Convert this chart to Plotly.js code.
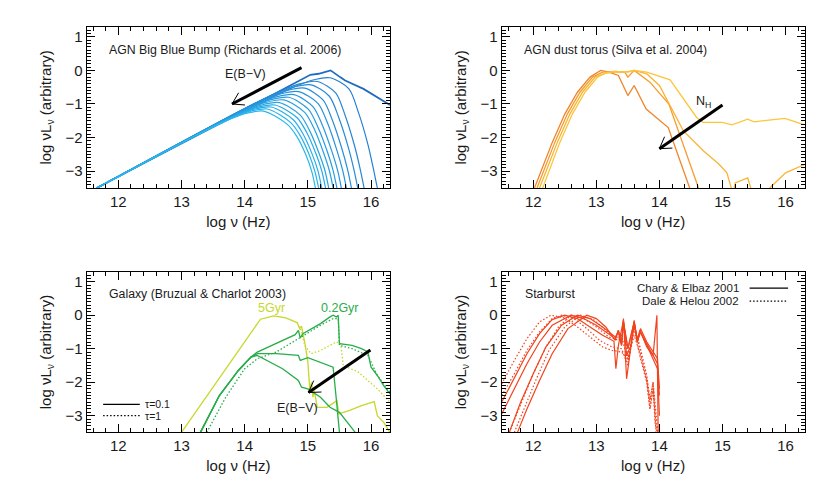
<!DOCTYPE html>
<html><head><meta charset="utf-8">
<script src="https://cdn.plot.ly/plotly-3.0.1.min.js"></script>
<style>html,body{margin:0;padding:0;background:#fff}#chart{width:830px;height:488px}</style>
</head><body><div id="chart"></div>
<script>
// ---------------- DATA ----------------
const xTicks = [12, 13, 14, 15, 16];
const yTicks = [-3, -2, -1, 0, 1];

// Panel 1: AGN Big Blue Bump (unreddened + reddened versions)
const bbbTopX = [11.66, 15.04, 15.17, 15.36, 15.51, 15.59, 15.88, 16.10, 16.30];
const bbbTopY = [-3.5, -0.13, -0.10, 0.00, -0.20, -0.30, -0.55, -0.80, -1.03];
const bbbRedX = [
  [11.66,14.35,14.75,15.05,15.35,15.65,15.80,15.95,16.04,16.10],
  [11.66,14.15,14.55,14.85,15.15,15.44,15.59,15.74,15.83,15.89],
  [11.66,14.05,14.45,14.75,15.05,15.34,15.49,15.64,15.73,15.79],
  [11.66,13.95,14.35,14.65,14.95,15.24,15.39,15.54,15.63,15.69],
  [11.66,13.85,14.25,14.55,14.85,15.16,15.31,15.46,15.55,15.61],
  [11.66,13.78,14.18,14.48,14.78,15.08,15.23,15.38,15.47,15.53],
  [11.66,13.70,14.10,14.40,14.70,15.01,15.16,15.31,15.40,15.46],
  [11.66,13.62,14.02,14.32,14.62,14.95,15.10,15.25,15.34,15.40],
  [11.66,13.55,13.95,14.25,14.55,14.88,15.03,15.18,15.27,15.33],
  [11.66,13.48,13.88,14.18,14.48,14.83,14.98,15.13,15.22,15.28],
  [11.66,13.42,13.82,14.12,14.42,14.77,14.92,15.07,15.16,15.22],
  [11.66,13.36,13.76,14.06,14.36,14.72,14.87,15.02,15.11,15.17],
  [11.66,13.30,13.70,14.00,14.30,14.67,14.82,14.97,15.06,15.12]
];
const bbbRedY = [
  [-3.5,-0.88,-0.52,-0.30,-0.22,-0.55,-1.25,-2.20,-2.95,-3.5],
  [-3.5,-0.99,-0.63,-0.41,-0.33,-0.67,-1.34,-2.25,-2.95,-3.5],
  [-3.5,-1.09,-0.73,-0.51,-0.43,-0.77,-1.41,-2.29,-2.96,-3.5],
  [-3.5,-1.19,-0.83,-0.61,-0.53,-0.88,-1.49,-2.34,-2.96,-3.5],
  [-3.5,-1.29,-0.93,-0.71,-0.63,-0.98,-1.56,-2.38,-2.97,-3.5],
  [-3.5,-1.38,-1.02,-0.80,-0.72,-1.08,-1.63,-2.41,-2.97,-3.5],
  [-3.5,-1.46,-1.10,-0.88,-0.80,-1.16,-1.69,-2.43,-2.98,-3.5],
  [-3.5,-1.54,-1.18,-0.96,-0.88,-1.25,-1.74,-2.46,-2.98,-3.5],
  [-3.5,-1.62,-1.26,-1.04,-0.96,-1.33,-1.80,-2.48,-2.98,-3.5],
  [-3.5,-1.69,-1.33,-1.11,-1.03,-1.41,-1.84,-2.49,-2.99,-3.5],
  [-3.5,-1.75,-1.39,-1.17,-1.09,-1.47,-1.88,-2.50,-2.99,-3.5],
  [-3.5,-1.81,-1.45,-1.23,-1.15,-1.54,-1.91,-2.50,-3.00,-3.5],
  [-3.5,-1.87,-1.51,-1.29,-1.21,-1.60,-1.95,-2.52,-3.00,-3.5]
];

// Panel 2: AGN dust torus
const torusX = [
  [12.02,12.30,12.50,12.70,12.90,13.07,13.20,13.35,13.50,13.60,13.79,14.14,14.48],
  [12.06,12.34,12.54,12.74,12.94,13.10,13.30,13.45,13.50,13.60,13.85,14.15,14.62],
  [12.10,12.38,12.58,12.78,12.98,13.15,13.30,13.45,13.60,13.80,14.00,14.15,14.38,14.70,14.95,15.07,15.17,15.20,15.40,15.48,15.70,15.75,16.00,16.30],
  [12.15,12.42,12.62,12.82,13.02,13.15,13.30,13.50,13.60,13.80,14.17,14.37,14.59,14.69,15.00,15.15,15.40,15.50,15.99,16.30]
];
const torusY = [
  [-3.5,-2.15,-1.30,-0.65,-0.20,0.00,-0.05,-0.15,-0.75,-0.45,-1.15,-1.70,-3.5],
  [-3.5,-2.15,-1.30,-0.65,-0.20,-0.05,-0.03,-0.05,-0.20,0.00,-0.35,-1.00,-3.5],
  [-3.5,-2.15,-1.30,-0.65,-0.20,-0.08,-0.05,-0.05,0.00,-0.10,-0.45,-1.00,-1.80,-2.40,-2.80,-3.05,-3.70,-3.35,-3.20,-3.70,-3.70,-3.50,-3.05,-2.80],
  [-3.5,-2.15,-1.30,-0.65,-0.20,-0.07,-0.03,-0.05,0.00,-0.05,-0.28,-0.80,-1.40,-1.55,-1.55,-1.62,-1.45,-1.53,-1.43,-1.62]
];

// Panel 3: Galaxy (Bruzual & Charlot 2003)
const gal5SolidX = [13.0,13.6,14.0,14.25,14.46,14.65,14.83,14.87,14.90,14.95,15.00,15.03,15.06,15.08,15.10,15.15,15.30,15.42,15.46,15.49,15.65,15.85,16.05,16.10,16.20,16.30];
const gal5SolidY = [-3.5,-1.88,-0.80,-0.12,-0.02,-0.08,-0.22,-0.40,-0.33,-0.80,-1.40,-2.20,-2.00,-2.45,-2.25,-2.75,-2.75,-2.60,-2.55,-2.95,-2.85,-2.70,-2.58,-3.00,-3.20,-3.5];
const gal5DotX = [14.83,14.90,14.95,15.05,15.20,15.35,15.45,15.52,15.56,15.80,15.95,16.10,16.30];
const gal5DotY = [-0.22,-0.50,-0.90,-1.15,-1.05,-0.90,-0.80,-0.85,-1.50,-1.70,-1.95,-2.20,-2.60];
const gal02SolidX = [
  [13.3,13.6,13.9,14.1,14.2,14.5,14.8,14.85,14.88,14.92,15.2,15.35,15.4,15.45,15.48,15.5,15.7,15.85,15.95,16.0,16.1,16.2,16.3],
  [13.3,13.6,13.9,14.1,14.2,14.5,14.85,14.88,15.0,15.25,15.4,15.45,15.5],
  [13.3,13.6,13.9,14.1,14.2,14.6,14.85,14.9,15.0,15.2,15.35,15.5,15.75]
];
const gal02SolidY = [
  [-3.5,-2.4,-1.65,-1.25,-1.1,-0.85,-0.58,-0.45,-0.68,-0.55,-0.25,-0.05,0.0,-0.05,0.0,-0.85,-0.9,-1.0,-1.1,-1.55,-1.8,-2.1,-2.35],
  [-3.5,-2.4,-1.65,-1.25,-1.15,-1.15,-1.2,-1.35,-1.27,-1.45,-1.55,-2.5,-3.5],
  [-3.5,-2.4,-1.65,-1.25,-1.2,-1.6,-1.95,-2.15,-2.2,-2.45,-2.75,-2.9,-3.5]
];
const gal02DotX = [13.4,13.7,14.0,14.2,14.5,14.85,15.2,15.4,15.48,15.5,15.7,15.95,16.1,16.3];
const gal02DotY = [-3.5,-2.45,-1.6,-1.3,-1.1,-0.7,-0.3,-0.1,-0.1,-0.9,-1.0,-1.2,-1.8,-2.3];

// Panel 4: Starburst
const charyX = [
  [11.5,11.7,11.9,12.1,12.3,12.5,12.7,12.9,13.1,13.28,13.31,13.35,13.4,13.43,13.48,13.55,13.6,13.65,13.69,13.8,13.9,13.97,14.0],
  [11.5,11.7,11.9,12.1,12.3,12.6,12.8,13.0,13.2,13.3,13.35,13.4,13.43,13.48,13.55,13.6,13.65,13.7,13.8,13.9,13.97,14.0],
  [11.62,11.8,12.0,12.2,12.45,12.7,12.9,13.1,13.3,13.35,13.4,13.43,13.5,13.6,13.65,13.7,13.8,13.9,13.96,13.98],
  [11.75,11.9,12.1,12.3,12.55,12.85,13.0,13.15,13.3,13.35,13.4,13.43,13.5,13.6,13.65,13.7,13.8,13.9,13.97,14.0]
];
const charyY = [
  [-2.6,-1.85,-1.15,-0.55,-0.13,0,-0.1,-0.35,-0.6,-0.78,-1.6,-0.9,-0.45,-0.15,-1.2,-0.9,-0.25,-0.75,-0.45,-0.95,-1.2,-1.45,-2.4],
  [-2.95,-2.2,-1.45,-0.8,-0.3,0,-0.1,-0.3,-0.55,-0.7,-0.45,-0.9,-0.1,-1.9,-0.9,-0.15,-0.8,-0.4,-0.8,-1.1,-1.3,-2.2],
  [-3.5,-2.6,-1.75,-0.95,-0.3,0,-0.1,-0.35,-0.65,-0.5,-0.9,-0.2,-1.0,-0.2,-0.8,-0.5,-0.85,-1.2,0.0,-3.5],
  [-3.5,-2.8,-1.95,-1.15,-0.4,0,-0.1,-0.35,-0.75,-0.45,-0.85,-0.2,-1.0,-0.2,-0.75,-0.5,-0.9,-1.3,-1.6,-3.0]
];
const daleX = [
  [11.5,11.7,11.9,12.1,12.28,12.5,12.7,12.9,13.1,13.25,13.4,13.5,13.6,13.7,13.8,13.85,13.9,13.95],
  [11.5,11.7,11.9,12.1,12.3,12.45,12.65,12.85,13.05,13.25,13.4,13.5,13.6,13.7,13.8,13.85,13.9,13.93,13.97],
  [11.62,11.8,12.0,12.2,12.4,12.6,12.8,13.0,13.2,13.35,13.45,13.5,13.6,13.7,13.8,13.85,13.9,13.95,13.98],
  [11.7,11.85,12.05,12.25,12.5,12.75,12.95,13.15,13.3,13.4,13.5,13.6,13.7,13.8,13.85,13.9,13.95,13.99]
];
const daleY = [
  [-2.05,-1.35,-0.7,-0.2,0,-0.08,-0.35,-0.65,-0.95,-1.05,-1.1,-1.3,-0.6,-1.2,-1.9,-2.6,-2.0,-3.6],
  [-2.4,-1.75,-1.05,-0.5,-0.1,0,-0.1,-0.4,-0.75,-0.95,-1.0,-1.5,-0.4,-1.3,-2.0,-2.8,-2.2,-3.2,-3.6],
  [-3.5,-2.65,-1.75,-0.95,-0.35,0,-0.1,-0.35,-0.65,-0.75,-0.4,-1.3,-0.3,-1.0,-1.8,-2.5,-2.0,-3.0,-3.6],
  [-3.5,-2.8,-1.9,-1.05,-0.35,0,-0.12,-0.45,-0.7,-0.6,-1.4,-0.35,-1.1,-2.0,-2.8,-2.2,-3.3,-3.6]
];

// ---------------- STYLE / LAYOUT ----------------
const FONT = 'Liberation Sans, Arial, Helvetica, sans-serif';
const W = 830, H = 488;
const colDom = [[86.7/W, 390/W], [501.7/W, 804.5/W]];
const rowDom = [[(H-188)/H, (H-26.7)/H], [(H-432.4)/H, (H-271.7)/H]];
const XR = [11.5, 16.3], YR = [-3.5, 1.3];
const TXT = '#1a1a1a';
const DOT = '1.5px,2px';

function xAxis(dom, anchor) {
  return {
    domain: dom, anchor: anchor, range: XR, tickmode: 'array', tickvals: xTicks,
    showline: true, linecolor: '#000', linewidth: 1, mirror: 'allticks',
    ticks: 'inside', ticklen: 8, tickcolor: '#000', showgrid: false, zeroline: false,
    minor: {tickmode: 'linear', tick0: 0, dtick: 0.2, ticks: 'inside', ticklen: 4, tickcolor: '#000', showgrid: false},
    tickfont: {family: FONT, size: 15, color: TXT},
    title: {text: 'log ν (Hz)', font: {family: FONT, size: 15, color: TXT}, standoff: 7}
  };
}
function yAxis(dom, anchor) {
  return {
    domain: dom, anchor: anchor, range: YR, tickmode: 'array', tickvals: yTicks,
    showline: true, linecolor: '#000', linewidth: 1, mirror: 'allticks',
    ticks: 'inside', ticklen: 8, tickcolor: '#000', showgrid: false, zeroline: false,
    minor: {tickmode: 'linear', tick0: 0, dtick: 0.1, ticks: 'inside', ticklen: 4, tickcolor: '#000', showgrid: false},
    tickfont: {family: FONT, size: 15, color: TXT},
    title: {text: 'log νL<sub>ν</sub> (arbitrary)', font: {family: FONT, size: 15, color: TXT}, standoff: 10}
  };
}

const traces = [];
function mix(c1, c2, t) { return 'rgb(' + c1.map((v, i) => Math.round(v + (c2[i] - v) * t)).join(',') + ')'; }

// Panel 1
traces.push({x: bbbTopX, y: bbbTopY, xaxis: 'x', yaxis: 'y', mode: 'lines', line: {color: 'rgb(32,108,192)', width: 1.8}});
bbbRedX.forEach((xs, i) => {
  traces.push({x: xs, y: bbbRedY[i], xaxis: 'x', yaxis: 'y', mode: 'lines',
    line: {color: mix([38,128,210], [40,182,236], i / (bbbRedX.length - 1)), width: 1.2, shape: 'spline', smoothing: 0.8}});
});

// Panel 2
const torusColors = ['#f0842a', '#f59c2e', '#f9b433', '#fcc53b'];
torusX.forEach((xs, i) => {
  traces.push({x: xs, y: torusY[i], xaxis: 'x2', yaxis: 'y2', mode: 'lines', line: {color: torusColors[i], width: 1.3}});
});

// Panel 3
const c5 = '#c8d72c', c02 = '#27ae4a';
traces.push({x: gal5SolidX, y: gal5SolidY, xaxis: 'x3', yaxis: 'y3', mode: 'lines', line: {color: c5, width: 1.3}});
traces.push({x: gal5DotX, y: gal5DotY, xaxis: 'x3', yaxis: 'y3', mode: 'lines', line: {color: c5, width: 1.3, dash: DOT}});
gal02SolidX.forEach((xs, i) => {
  traces.push({x: xs, y: gal02SolidY[i], xaxis: 'x3', yaxis: 'y3', mode: 'lines', line: {color: c02, width: 1.3}});
});
traces.push({x: gal02DotX, y: gal02DotY, xaxis: 'x3', yaxis: 'y3', mode: 'lines', line: {color: c02, width: 1.3, dash: DOT}});

// Panel 4
const cSB = '#f1431e';
charyX.forEach((xs, i) => {
  traces.push({x: xs, y: charyY[i], xaxis: 'x4', yaxis: 'y4', mode: 'lines', line: {color: cSB, width: 1.2}});
});
daleX.forEach((xs, i) => {
  traces.push({x: xs, y: daleY[i], xaxis: 'x4', yaxis: 'y4', mode: 'lines', line: {color: cSB, width: 1.2, dash: DOT}});
});

// arrows: thick shaft + thin open head
const shapes = [];
function pxPerUnit(axisDom, range, size) { return (axisDom[1] - axisDom[0]) * size / (range[1] - range[0]); }
function addArrow(xr, yr, xDom, yDom, tail, tip) {
  const kx = pxPerUnit(xDom, XR, W), ky = pxPerUnit(yDom, YR, H);
  shapes.push({type: 'line', xref: xr, yref: yr, x0: tail[0], y0: tail[1], x1: tip[0], y1: tip[1], line: {color: '#000', width: 3}});
  const dx = (tail[0] - tip[0]) * kx, dy = (tail[1] - tip[1]) * ky;
  const L = Math.hypot(dx, dy), ux = dx / L, uy = dy / L, hl = 13, a = 32 * Math.PI / 180;
  [a, -a].forEach(t => {
    const rx = ux * Math.cos(t) - uy * Math.sin(t), ry = ux * Math.sin(t) + uy * Math.cos(t);
    shapes.push({type: 'line', xref: xr, yref: yr, x0: tip[0], y0: tip[1], x1: tip[0] + rx * hl / kx, y1: tip[1] + ry * hl / ky, line: {color: '#000', width: 1}});
  });
}
addArrow('x', 'y', colDom[0], rowDom[0], [14.9, 0.08], [13.8, -1.0]);
addArrow('x2', 'y2', colDom[1], rowDom[0], [15.0, -1.03], [14.0, -2.33]);
addArrow('x3', 'y3', colDom[0], rowDom[1], [15.99, -1.04], [15.01, -2.31]);

// legend lines
shapes.push({type: 'line', xref: 'x3', yref: 'y3', x0: 11.76, x1: 12.34, y0: -2.66, y1: -2.66, line: {color: '#000', width: 1.2}});
shapes.push({type: 'line', xref: 'x3', yref: 'y3', x0: 11.76, x1: 12.34, y0: -3.0, y1: -3.0, line: {color: '#000', width: 1.2, dash: DOT}});
shapes.push({type: 'line', xref: 'x4', yref: 'y4', x0: 15.43, x1: 16.04, y0: 0.81, y1: 0.81, line: {color: '#000', width: 1.2}});
shapes.push({type: 'line', xref: 'x4', yref: 'y4', x0: 15.43, x1: 16.04, y0: 0.42, y1: 0.42, line: {color: '#000', width: 1.2, dash: DOT}});

function txt(xr, yr, x, y, text, anchor, color, size) {
  return {xref: xr, yref: yr, x: x, y: y, text: text, showarrow: false, xanchor: anchor || 'left', yanchor: 'middle',
    font: {family: FONT, size: size || 12.3, color: color || TXT}};
}
const annotations = [
  txt('x', 'y', 11.82, 0.6, 'AGN Big Blue Bump (Richards et al. 2006)'),
  txt('x', 'y', 14.01, -0.12, 'E(B−V)', 'center', TXT, 12.5),
  txt('x2', 'y2', 11.82, 0.6, 'AGN dust torus (Silva et al. 2004)'),
  txt('x2', 'y2', 14.7, -0.95, 'N<sub>H</sub>', 'center', TXT, 12.5),
  txt('x3', 'y3', 11.82, 0.63, 'Galaxy (Bruzual & Charlot 2003)'),
  txt('x3', 'y3', 14.43, 0.23, '5Gyr', 'center', c5, 12.5),
  txt('x3', 'y3', 15.51, 0.23, '0.2Gyr', 'center', c02, 12.5),
  txt('x3', 'y3', 14.83, -2.76, 'E(B−V)', 'center', TXT, 12.5),
  txt('x3', 'y3', 12.39, -2.66, 'τ=0.1', 'left', TXT, 10.5),
  txt('x3', 'y3', 12.39, -3.0, 'τ=1', 'left', TXT, 10.5),
  txt('x4', 'y4', 11.84, 0.63, 'Starburst'),
  txt('x4', 'y4', 15.30, 0.81, 'Chary & Elbaz 2001', 'right', TXT, 11.5),
  txt('x4', 'y4', 15.30, 0.42, 'Dale & Helou 2002', 'right', TXT, 11.5)
];

const layout = {
  width: W, height: H, margin: {l: 0, r: 0, t: 0, b: 0},
  paper_bgcolor: '#fff', plot_bgcolor: '#fff', showlegend: false,
  xaxis: xAxis(colDom[0], 'y'), yaxis: yAxis(rowDom[0], 'x'),
  xaxis2: xAxis(colDom[1], 'y2'), yaxis2: yAxis(rowDom[0], 'x2'),
  xaxis3: xAxis(colDom[0], 'y3'), yaxis3: yAxis(rowDom[1], 'x3'),
  xaxis4: xAxis(colDom[1], 'y4'), yaxis4: yAxis(rowDom[1], 'x4'),
  shapes: shapes, annotations: annotations
};
Plotly.newPlot('chart', traces, layout, {staticPlot: true, displayModeBar: false});
</script></body></html>
